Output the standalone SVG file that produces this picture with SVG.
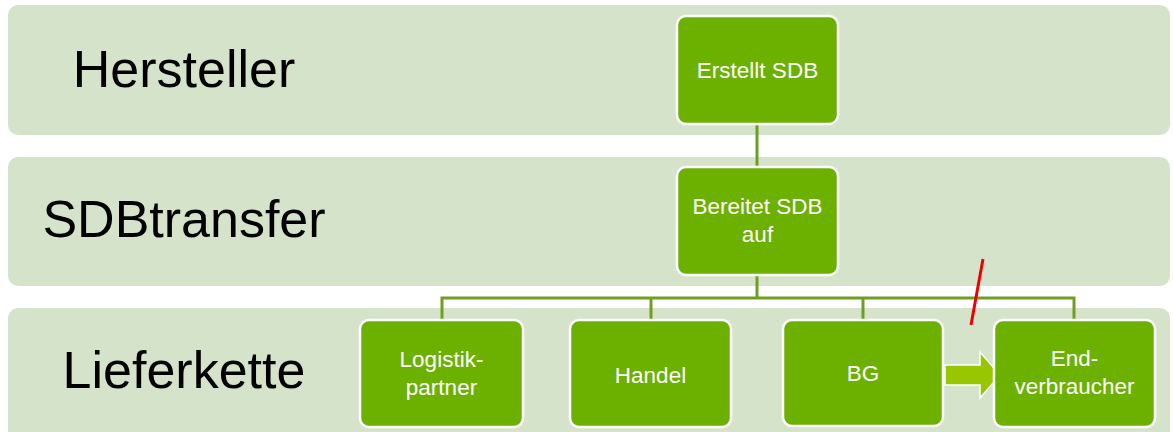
<svg xmlns="http://www.w3.org/2000/svg" width="1173" height="432" viewBox="0 0 1173 432">
<style>
.band{fill:#D6E3CB}
.lane{font-family:"Liberation Sans",Arial,sans-serif;font-size:52px;fill:#000;text-anchor:middle}
.box{fill:#6DB100;stroke:#fff;stroke-width:2.5}
.lbl{font-family:"Liberation Sans",Arial,sans-serif;font-size:22.5px;fill:#fff;text-anchor:middle}
.conn{fill:none;stroke:#6E9F22;stroke-width:3}
</style>
<rect width="1173" height="432" fill="#fff"/>
<g id="bands">
<rect class="band" x="8" y="5" width="1162" height="130" rx="10"/>
<rect class="band" x="8" y="157" width="1162" height="129" rx="10"/>
<rect class="band" x="8" y="308" width="1162" height="140" rx="10"/>
<text class="lane" x="184" y="87">Hersteller</text>
<text class="lane" x="184" y="237">SDBtransfer</text>
<text class="lane" x="184" y="388">Lieferkette</text>
</g>
<g id="connectors">
<path class="conn" d="M757 124V167"/>
<path class="conn" d="M757 275V298M442 320V298H1074V320M651 298V320M863 298V320"/>
<line x1="983" y1="259" x2="971" y2="325" stroke="#F00000" stroke-width="3"/>
<path d="M945 365H980V352L1000 375L980 398V385H945Z" fill="#98C600" stroke="#fff" stroke-width="1.5"/>
</g>
<g id="n-erstellt">
<rect class="box" x="677" y="16" width="161" height="108" rx="9"/>
<text class="lbl" x="757.5" y="78">Erstellt SDB</text>
</g>
<g id="n-bereitet">
<rect class="box" x="677" y="167" width="161" height="108" rx="9"/>
<text class="lbl" x="757.5" y="214">Bereitet SDB</text>
<text class="lbl" x="757.5" y="242">auf</text>
</g>
<g id="n-logistik">
<rect class="box" x="360" y="320" width="163" height="107" rx="9"/>
<text class="lbl" x="441.5" y="367">Logistik-</text>
<text class="lbl" x="441.5" y="395">partner</text>
</g>
<g id="n-handel">
<rect class="box" x="570" y="320" width="161" height="107" rx="9"/>
<text class="lbl" x="650.5" y="383">Handel</text>
</g>
<g id="n-bg">
<rect class="box" x="783" y="320" width="160" height="106" rx="9"/>
<text class="lbl" x="863" y="381">BG</text>
</g>
<g id="n-end">
<rect class="box" x="994" y="320" width="161" height="107" rx="9"/>
<text class="lbl" x="1074.5" y="366">End-</text>
<text class="lbl" x="1074.5" y="394">verbraucher</text>
</g>
</svg>
